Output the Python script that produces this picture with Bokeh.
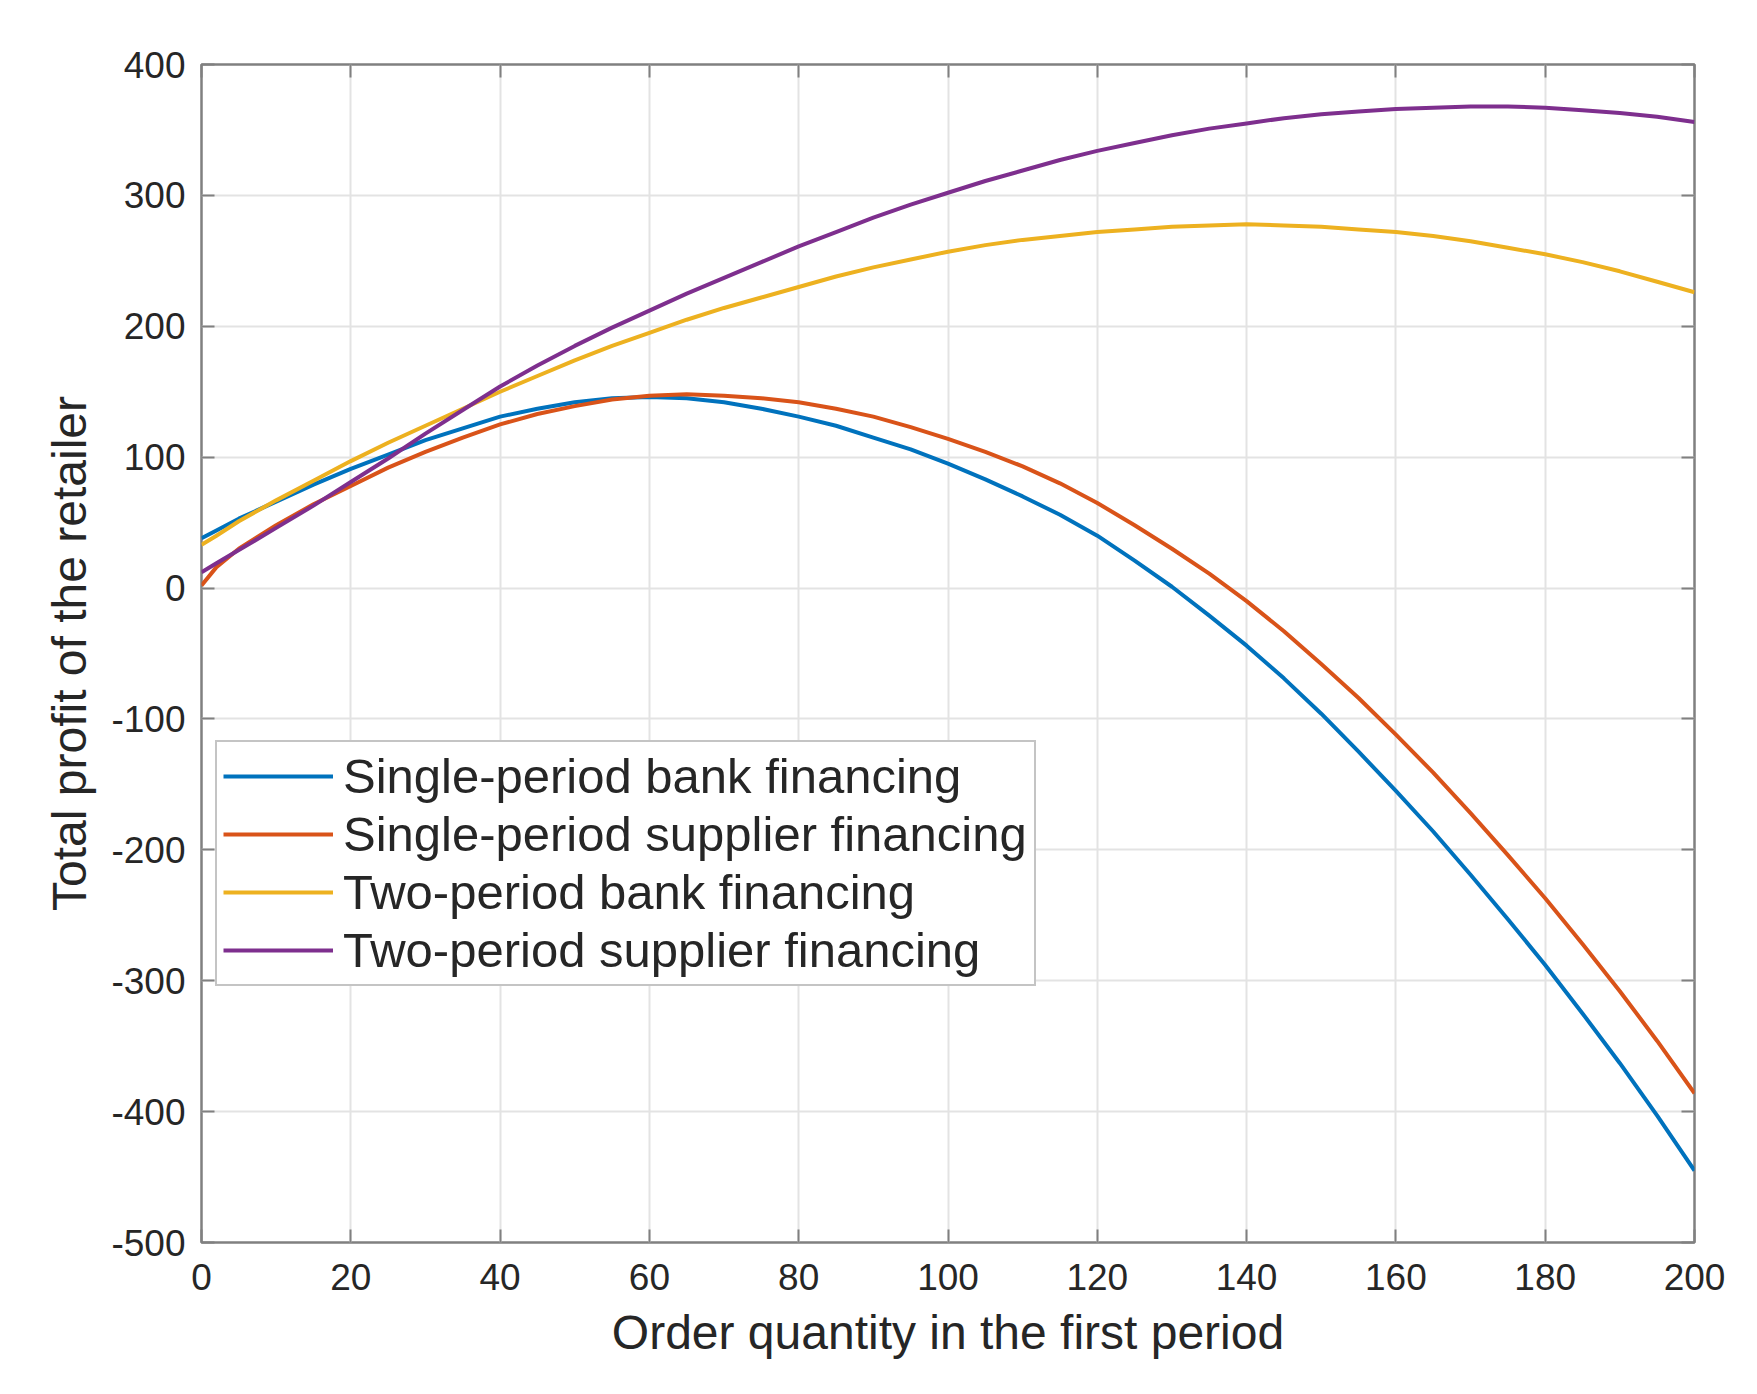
from bokeh.plotting import figure
from bokeh.models import (LinearAxis, FixedTicker, Range1d, Legend, LegendItem,
                          CustomJSTickFormatter)
from bokeh.embed import file_html
from bokeh.resources import INLINE

# ---- data ----
order_qty = [0, 2, 5, 10, 15, 20, 25, 30, 35, 40, 45, 50, 55, 60, 65, 70, 75, 80, 85, 90,
             95, 100, 105, 110, 115, 120, 125, 130, 135, 140, 145, 150, 155, 160, 165,
             170, 175, 180, 185, 190, 195, 200]
single_bank = [38, 44, 53, 66, 79, 91, 102, 113, 122, 131, 137, 142, 145, 146, 145, 142,
               137, 131, 124, 115, 106, 95, 83, 70, 56, 40, 21, 1, -21, -44, -69, -96,
               -125, -155, -186, -219, -253, -288, -325, -363, -403, -445]
single_supplier = [2, 16, 30, 48, 64, 78, 92, 104, 115, 125, 133, 139, 144, 147, 148, 147,
                   145, 142, 137, 131, 123, 114, 104, 93, 80, 65, 48, 30, 11, -10, -33, -58,
                   -84, -112, -141, -172, -204, -237, -272, -308, -346, -386]
two_bank = [33, 40, 51, 67, 82, 97, 111, 124, 137, 150, 162, 174, 185, 195, 205, 214, 222,
            230, 238, 245, 251, 257, 262, 266, 269, 272, 274, 276, 277, 278, 277, 276, 274,
            272, 269, 265, 260, 255, 249, 242, 234, 226]
two_supplier = [12, 19, 29, 46, 63, 81, 99, 118, 136, 154, 170, 185, 199, 212, 225, 237,
                249, 261, 272, 283, 293, 302, 311, 319, 327, 334, 340, 346, 351, 355, 359,
                362, 364, 366, 367, 368, 368, 367, 365, 363, 360, 356]

series_names = ["Single-period bank financing", "Single-period supplier financing",
                "Two-period bank financing", "Two-period supplier financing"]
series_colors = ["#0072BD", "#D95319", "#EDB120", "#7E2F8E"]

x_ticks = [0, 20, 40, 60, 80, 100, 120, 140, 160, 180, 200]
y_ticks = [-500, -400, -300, -200, -100, 0, 100, 200, 300, 400]

x_label = "Order quantity in the first period"
y_label = "Total profit of the retailer"

FONT = "Liberation Sans"
TXT = "#262626"
AXC = "#808080"

p = figure(frame_width=1493, frame_height=1178,
           min_border_left=201, min_border_top=64, min_border_right=55, min_border_bottom=130,
           x_range=Range1d(0, 200), y_range=Range1d(-500, 400),
           output_backend="svg", toolbar_location=None,
           background_fill_color="white", border_fill_color="white")

p.outline_line_color = AXC
p.outline_line_width = 2.5

for ax, ticks in ((p.xaxis[0], x_ticks), (p.yaxis[0], y_ticks)):
    ax.ticker = FixedTicker(ticks=ticks)
    ax.formatter = CustomJSTickFormatter(code="return tick.toString();")
    ax.major_tick_in = 13
    ax.major_tick_out = 0
    ax.major_tick_line_color = AXC
    ax.major_tick_line_width = 2
    ax.minor_tick_line_color = None
    ax.axis_line_color = None
    ax.major_label_text_font = FONT
    ax.major_label_text_font_size = "37px"
    ax.major_label_text_color = TXT
    ax.axis_label_text_font = FONT
    ax.axis_label_text_font_size = "48px"
    ax.axis_label_text_font_style = "normal"
    ax.axis_label_text_color = TXT

p.xaxis.axis_label = x_label
p.yaxis.axis_label = y_label
p.xaxis.major_label_standoff = 21
p.yaxis.major_label_standoff = 16
p.xaxis.axis_label_standoff = 13
p.yaxis.axis_label_standoff = 12

for side, ticks in (("above", x_ticks), ("right", y_ticks)):
    ax = LinearAxis(ticker=FixedTicker(ticks=ticks),
                    formatter=CustomJSTickFormatter(code="return ''"),
                    major_tick_in=13, major_tick_out=0, major_tick_line_color=AXC,
                    major_tick_line_width=2, minor_tick_line_color=None,
                    axis_line_color=None, major_label_text_font_size="0px",
                    major_label_standoff=0)
    p.add_layout(ax, side)

p.xgrid.ticker = FixedTicker(ticks=x_ticks)
p.ygrid.ticker = FixedTicker(ticks=y_ticks)
p.grid.grid_line_color = "#e3e3e3"
p.grid.grid_line_width = 2

items = []
for name, color, ys in zip(series_names, series_colors,
                           [single_bank, single_supplier, two_bank, two_supplier]):
    r = p.line(order_qty, ys, line_color=color, line_width=4, line_join="round")
    items.append(LegendItem(label=name, renderers=[r]))

legend = Legend(items=items, location=(14, 256),
                label_text_font=FONT, label_text_font_size="49px", label_text_color=TXT,
                glyph_width=110, glyph_height=54, label_height=54, label_width=685,
                label_standoff=10, padding=6, spacing=2, margin=0,
                border_line_color="#8a8a8a", border_line_width=2,
                background_fill_color="white", background_fill_alpha=1.0)
p.add_layout(legend)

open("out.html", "w").write(file_html(p, INLINE))
